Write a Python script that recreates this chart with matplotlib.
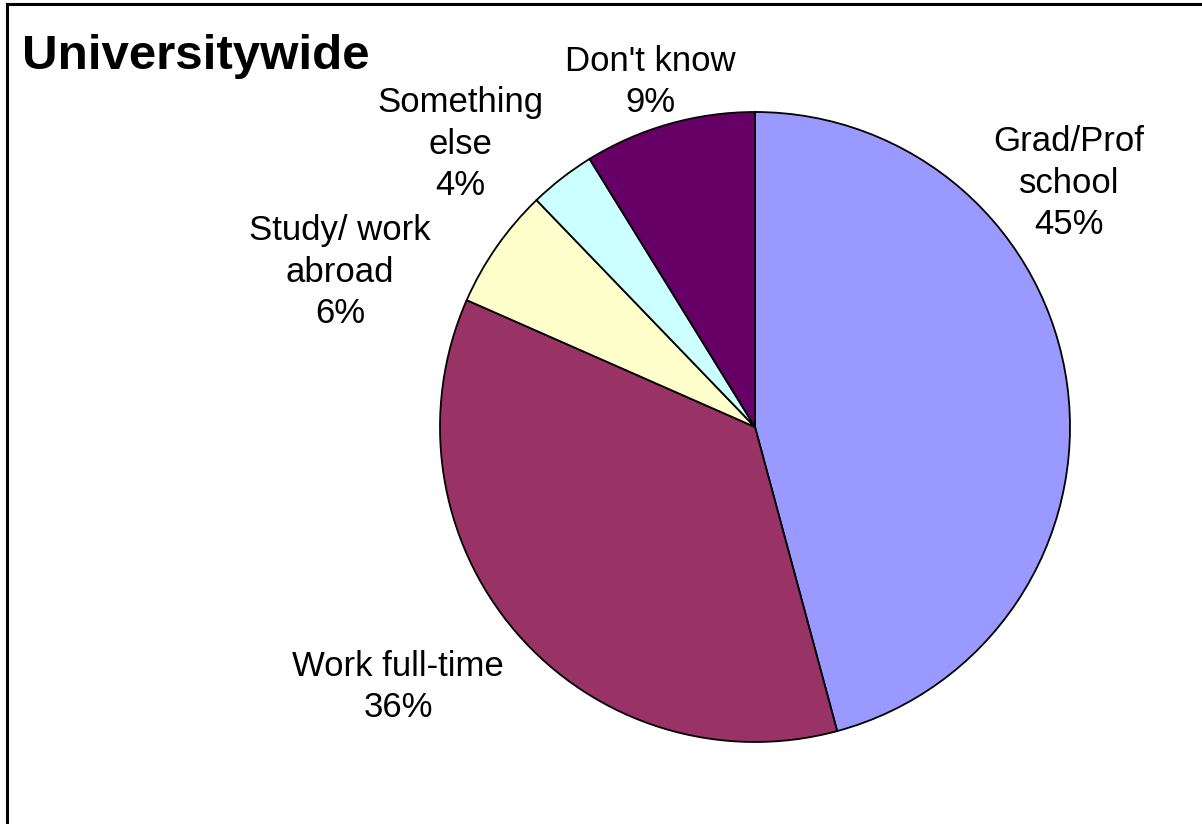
import matplotlib.pyplot as plt
from matplotlib.lines import Line2D

# Data
categories = ['Grad/Prof\nschool', 'Work full-time', 'Study/ work\nabroad', 'Something\nelse', "Don't know"]
values = [45.8, 35.8, 6.2, 3.4, 8.8]
pct_labels = ['45%', '36%', '6%', '4%', '9%']
colors = ['#9999FF', '#993366', '#FFFFCC', '#CCFFFF', '#660066']

# label centres in pixel coords (x, y from top)
label_pos = [(1069, 183), (398, 687), (340, 272), (460, 144), (650, 82)]

W, H = 1202, 824
fig = plt.figure(figsize=(W / 100, H / 100), dpi=100)
ax = fig.add_axes([0, 0, 1, 1])

cx, cy, r = 755, H - 427, 315
ax.pie(values, colors=colors, startangle=90, counterclock=False,
       center=(cx, cy), radius=r, frame=True,
       wedgeprops=dict(edgecolor='black', linewidth=1.3))
ax.set_xlim(0, W)
ax.set_ylim(0, H)
ax.set_aspect('equal')
ax.axis('off')

for cat, pct, (x, y) in zip(categories, pct_labels, label_pos):
    ax.text(x, H - y, cat + '\n' + pct, ha='center', va='center',
            fontsize=25, family='Liberation Sans', linespacing=1.32)

ax.text(22, H - 56, 'Universitywide', ha='left', va='center',
        fontsize=35.5, fontweight='bold', family='Liberation Sans')

# frame lines on top and left edge
fig.add_artist(Line2D([7 / W, 1], [1 - 4 / H, 1 - 4 / H], color='black', lw=2.2, transform=fig.transFigure))
fig.add_artist(Line2D([7 / W, 7 / W], [0, 1 - 4 / H], color='black', lw=2.2, transform=fig.transFigure))

fig.savefig('out.png', dpi=100, facecolor='white')
